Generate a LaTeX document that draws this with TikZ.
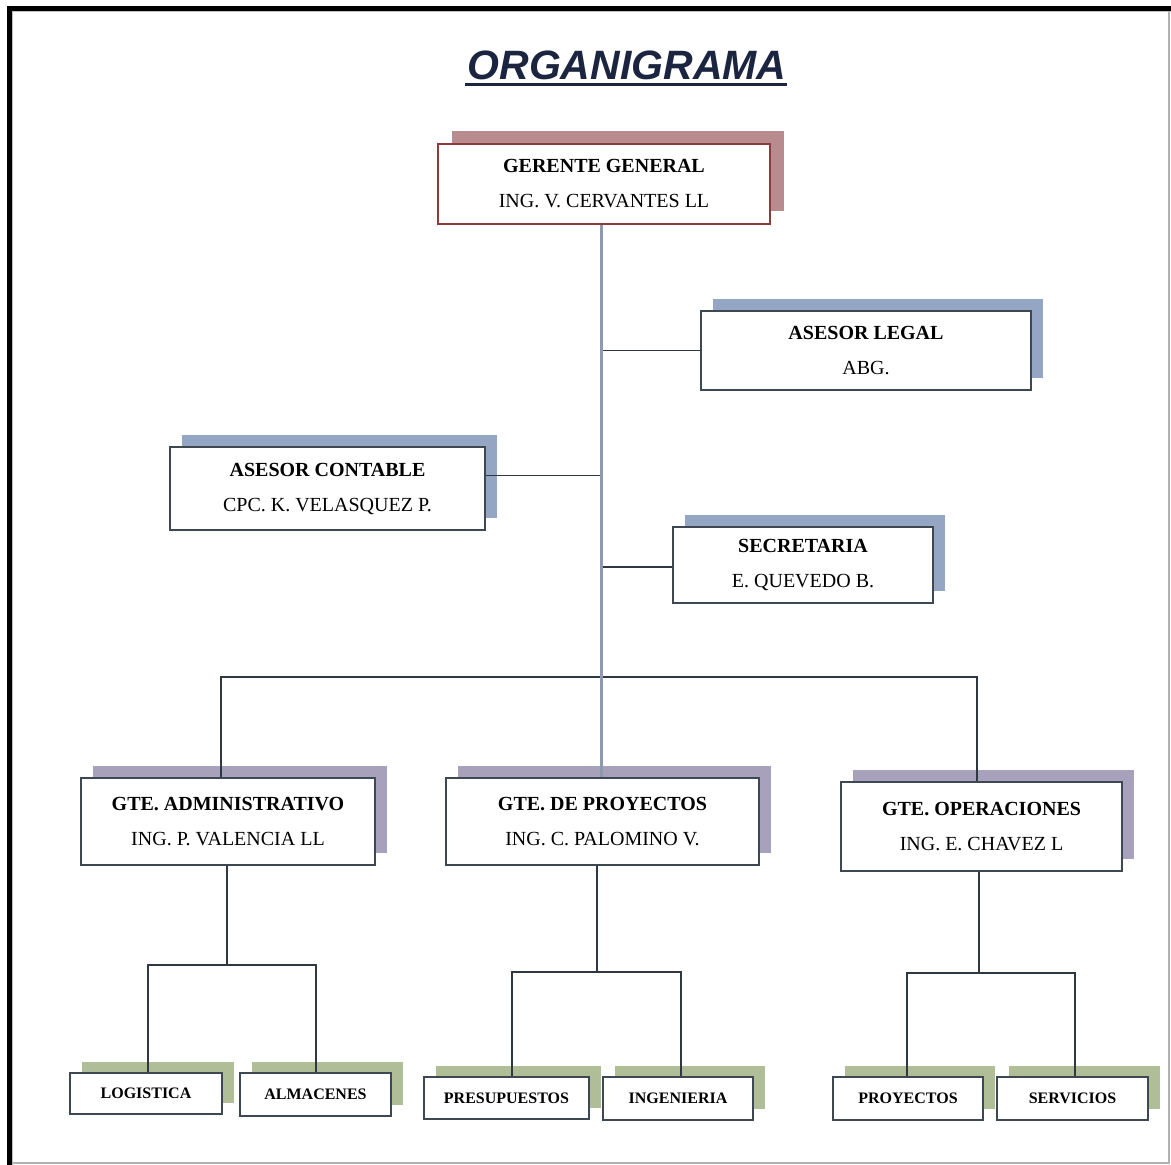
\documentclass[tikz,border=0pt]{standalone}
\usepackage{fontspec}
\setmainfont{Liberation Serif}
\newfontfamily\titlefont{Liberation Sans}
\usetikzlibrary{shadows}

\definecolor{ggshadow}{HTML}{B88C8E}
\definecolor{ggborder}{HTML}{8A3B3B}
\definecolor{blueshadow}{HTML}{94A6C4}
\definecolor{lilacshadow}{HTML}{A8A1BB}
\definecolor{greenshadow}{HTML}{AFBE97}
\definecolor{boxborder}{HTML}{3E4852}
\definecolor{trunkcol}{HTML}{8F98AF}
\definecolor{linkcol}{HTML}{2F3840}
\definecolor{titlecol}{HTML}{1C2540}

\tikzset{
  unitbox/.style={draw=boxborder, line width=1.3pt, fill=white, align=center,
    inner sep=0pt, font=\fontsize{20}{35}\selectfont},
  smallbox/.style={unitbox, font=\fontsize{16}{16}\selectfont\bfseries,
    general shadow={fill=greenshadow, shadow xshift=12pt, shadow yshift=11pt}},
  blueshade/.style={general shadow={fill=blueshadow, shadow xshift=12pt, shadow yshift=12pt}},
  lilacshade/.style={general shadow={fill=lilacshadow, shadow xshift=12pt, shadow yshift=12pt}},
  trunk/.style={draw=trunkcol, line width=3pt},
  link/.style={draw=linkcol, line width=1.5pt},
}

\begin{document}
\begin{tikzpicture}[x=1pt, y=-1pt]
\useasboundingbox (0,0) rectangle (1171,1165);
\fill[white] (0,0) rectangle (1171,1165);

% page frame
\draw[line width=5pt] (9.5,1165) -- (9.5,8) -- (1171,8);
\draw[gray!50, line width=1pt] (12.5,1165) -- (12.5,11) -- (1171,11);
\draw[gray!60, line width=1.2pt] (1169,11) -- (1169,1163) -- (12,1163);

% title
\node[font=\titlefont\bfseries\itshape\fontsize{41}{41}\selectfont, text=titlecol,
      inner sep=0pt, anchor=base] (title) at (627,79) {ORGANIGRAMA};
\draw[titlecol, line width=3pt] ([yshift=-5pt,xshift=-2pt]title.base west) -- ([yshift=-5pt]title.base east);

% management boxes
\node[unitbox, draw=ggborder, minimum width=332pt, minimum height=80pt,
      general shadow={fill=ggshadow, shadow xshift=14pt, shadow yshift=13pt}] (gg) at (604,184)
  {\textbf{GERENTE GENERAL}\\ING. V. CERVANTES LL};
\node[unitbox, blueshade, minimum width=330pt, minimum height=79pt] (legal) at (866,350.5)
  {\textbf{ASESOR LEGAL}\\ABG.};
\node[unitbox, blueshade, minimum width=315pt, minimum height=83pt] (contable) at (327.5,488.5)
  {\textbf{ASESOR CONTABLE}\\CPC. K. VELASQUEZ P.};
\node[unitbox, blueshade, minimum width=260pt, minimum height=76pt] (secre) at (803,565)
  {\textbf{SECRETARIA}\\E. QUEVEDO B.};
\node[unitbox, lilacshade, minimum width=294pt, minimum height=87pt] (gadm) at (228,821.5)
  {\textbf{GTE. ADMINISTRATIVO}\\ING. P. VALENCIA LL};
\node[unitbox, lilacshade, minimum width=313pt, minimum height=87pt] (gpro) at (602.5,821.5)
  {\textbf{GTE. DE PROYECTOS}\\ING. C. PALOMINO V.};
\node[unitbox, lilacshade, minimum width=281pt, minimum height=89pt] (gope) at (981.5,826.5)
  {\textbf{GTE. OPERACIONES}\\ING. E. CHAVEZ L};

% area boxes
\node[smallbox, minimum width=152pt, minimum height=41pt] (logi) at (146,1093.5) {LOGISTICA};
\node[smallbox, minimum width=151pt, minimum height=43pt] (alma) at (315.5,1094.5) {ALMACENES};
\node[smallbox, minimum width=165pt, minimum height=42pt] (presu) at (506.5,1098) {PRESUPUESTOS};
\node[smallbox, minimum width=150pt, minimum height=43pt] (inge) at (678,1098.5) {INGENIERIA};
\node[smallbox, minimum width=150pt, minimum height=43pt] (proy) at (908,1098.5) {PROYECTOS};
\node[smallbox, minimum width=151pt, minimum height=43pt] (serv) at (1072.5,1098.5) {SERVICIOS};

% junction points
\coordinate (bus) at (601,677);
\coordinate (ja) at (227,965);
\coordinate (jp) at (597,972);
\coordinate (jo) at (979,973);

% staff links and managers bus
\draw[link] (legal.west) -- (legal.west -| bus);
\draw[link] ([yshift=13pt]contable.east) -- ([yshift=13pt]contable.east -| bus);
\draw[link] ([yshift=-2pt]secre.west) -- ([yshift=-2pt]secre.west -| bus);
\draw[link] ([xshift=-7pt]gadm.north) -- ([xshift=-7pt]gadm.north |- bus)
  -- ([xshift=-4.5pt]gope.north |- bus) -- ([xshift=-4.5pt]gope.north);

% main trunk
\draw[trunk] (bus |- gg.south) -- (bus |- gpro.north);

% administrative branch
\draw[link] (ja |- gadm.south) -- (ja);
\draw[link] ([xshift=2pt]logi.north) -- ([xshift=2pt]logi.north |- ja)
  -- ([xshift=0.5pt]alma.north |- ja) -- ([xshift=0.5pt]alma.north);

% projects branch
\draw[link] (jp |- gpro.south) -- (jp);
\draw[link] ([xshift=5.5pt]presu.north) -- ([xshift=5.5pt]presu.north |- jp)
  -- ([xshift=3pt]inge.north |- jp) -- ([xshift=3pt]inge.north);

% operations branch
\draw[link] (jo |- gope.south) -- (jo);
\draw[link] ([xshift=-1pt]proy.north) -- ([xshift=-1pt]proy.north |- jo)
  -- ([xshift=2.5pt]serv.north |- jo) -- ([xshift=2.5pt]serv.north);
\end{tikzpicture}
\end{document}
